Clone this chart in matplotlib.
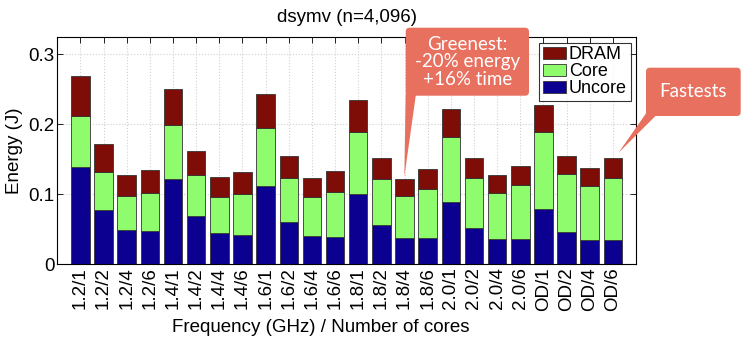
import numpy as np
import matplotlib
matplotlib.use('Agg')
import matplotlib.pyplot as plt
from matplotlib.patches import FancyBboxPatch, Polygon
from matplotlib.transforms import IdentityTransform

plt.rcParams['font.family'] = ['Liberation Sans', 'DejaVu Sans']

# 频率/核数
labels = ['1.2/1', '1.2/2', '1.2/4', '1.2/6', '1.4/1', '1.4/2', '1.4/4', '1.4/6',
          '1.6/1', '1.6/2', '1.6/4', '1.6/6', '1.8/1', '1.8/2', '1.8/4', '1.8/6',
          '2.0/1', '2.0/2', '2.0/4', '2.0/6', 'OD/1', 'OD/2', 'OD/4', 'OD/6']

# 累计高度 (J)
uncore = [0.1395, 0.0776, 0.0486, 0.047, 0.122, 0.069, 0.044, 0.042,
          0.112, 0.061, 0.040, 0.039, 0.101, 0.056, 0.038, 0.038,
          0.0895, 0.052, 0.036, 0.036, 0.079, 0.046, 0.034, 0.034]
core_top = [0.212, 0.132, 0.097, 0.102, 0.199, 0.127, 0.096, 0.101,
            0.195, 0.123, 0.096, 0.103, 0.189, 0.122, 0.098, 0.108,
            0.181, 0.123, 0.102, 0.113, 0.189, 0.129, 0.112, 0.123]
total = [0.269, 0.171, 0.128, 0.135, 0.250, 0.161, 0.125, 0.132,
         0.243, 0.155, 0.123, 0.133, 0.234, 0.152, 0.122, 0.136,
         0.221, 0.152, 0.128, 0.141, 0.227, 0.155, 0.138, 0.151]

uncore = np.array(uncore)
core = np.array(core_top) - uncore
dram = np.array(total) - np.array(core_top)
x = np.arange(1, len(labels) + 1)

fig = plt.figure(figsize=(7.47, 3.42), dpi=100)
ax = fig.add_axes([0.0767, 0.2272, 0.7747, 0.6638])

ec = '#333333'
ax.bar(x, uncore, 0.8, color='#0b008f', edgecolor=ec, linewidth=0.6, label='Uncore', zorder=3)
ax.bar(x, core, 0.8, bottom=uncore, color='#8efc6c', edgecolor=ec, linewidth=0.6, label='Core', zorder=3)
ax.bar(x, dram, 0.8, bottom=uncore + core, color='#7e0d07', edgecolor=ec, linewidth=0.6, label='DRAM', zorder=3)

ax.set_xlim(0, 25)
ax.set_ylim(0, 0.324)
ax.set_xticks(x)
ax.set_xticklabels(labels, rotation=90, fontsize=13.5)
ax.set_yticks([0, 0.1, 0.2, 0.3])
ax.set_yticklabels(['0', '0.1', '0.2', '0.3'], fontsize=13.5)
ax.tick_params(direction='in', top=True, right=True, length=4, width=0.6, pad=2)
ax.grid(True, linestyle=':', color='#d0d0d0', linewidth=0.8, zorder=0)
for s in ax.spines.values():
    s.set_linewidth(0.8)

ax.set_title('dsymv (n=4,096)', fontsize=13.5, pad=11)
ax.set_xlabel('Frequency (GHz) / Number of cores', fontsize=13.5)
ax.xaxis.set_label_coords(0.455, -0.24)
ax.set_ylabel('Energy (J)', fontsize=13.5, labelpad=4)

handles, lbls = ax.get_legend_handles_labels()
leg = ax.legend(handles[::-1], lbls[::-1], loc='upper right', fontsize=13,
                frameon=True, fancybox=False, edgecolor='black',
                handlelength=1.3, handleheight=0.65, handletextpad=0.15,
                labelspacing=0.0, borderpad=0.2, borderaxespad=0.3)
leg.get_frame().set_linewidth(0.8)

# 标注框 (像素坐标, 原点左上)
H = 342
callout = '#e8705f'


def px(xp, yp):
    return (xp, H - yp)


def add_callout(x0, y0, x1, y1, tri, text, fs, ls):
    box = FancyBboxPatch(px(x0, y1), x1 - x0, y1 - y0,
                         boxstyle='round,pad=0,rounding_size=4',
                         transform=IdentityTransform(), facecolor=callout,
                         edgecolor='none', zorder=10)
    fig.patches.append(box)
    poly = Polygon([px(*p) for p in tri], closed=True, transform=IdentityTransform(),
                   facecolor=callout, edgecolor='none', zorder=10)
    fig.patches.append(poly)
    fig.text((x0 + x1) / 2 / 747, 1 - (y0 + y1) / 2 / H, text, color='white',
             fontsize=fs, ha='center', va='center', linespacing=ls,
             family=['Lato', 'DejaVu Sans'], zorder=11)


add_callout(405.7, 27.7, 529, 95.7, [(405.7, 94), (416, 94), (404.3, 177)],
            'Greenest:\n-20% energy\n+16% time', 13.5, 1.05)
add_callout(646, 67.7, 740.7, 116, [(647, 112), (656, 115.5), (618.3, 153)],
            'Fastests', 13.5, 1.0)

fig.savefig('out.png', dpi=100)
